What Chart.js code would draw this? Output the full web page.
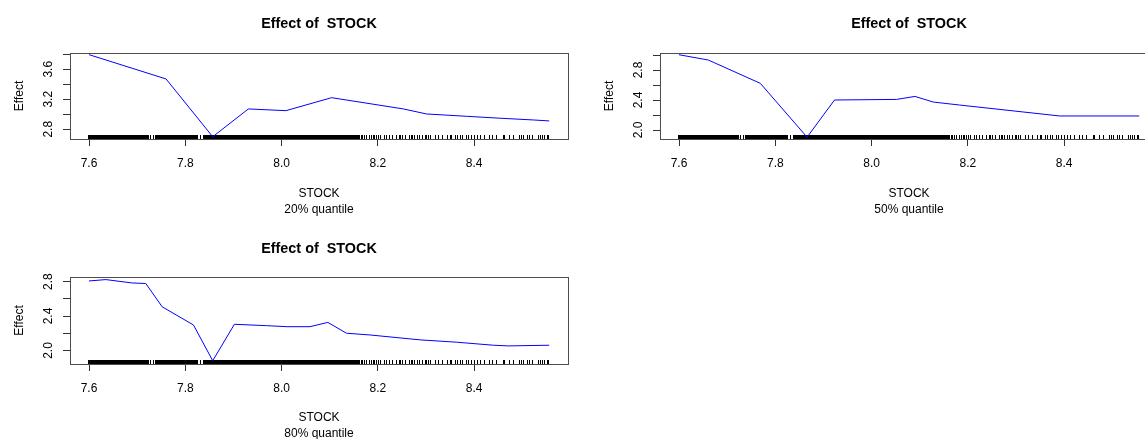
<!DOCTYPE html>
<html>
<head>
<meta charset="utf-8">
<script src="https://cdn.jsdelivr.net/npm/chart.js@4.4.0/dist/chart.umd.min.js"></script>
<style>
  html, body { margin: 0; padding: 0; background: #fff; }
  body { width: 1145px; height: 439px; overflow: hidden; position: relative; }
  canvas { position: absolute; }
</style>
</head>
<body>
<canvas id="q20" width="580" height="225" style="left:0;top:0"></canvas>
<canvas id="q50" width="580" height="225" style="left:590px;top:0"></canvas>
<canvas id="q80" width="580" height="225" style="left:0;top:224px"></canvas>
<script>
// partial dependence of Effect on STOCK, three quantiles of the other vars

const xTicks = [7.6, 7.8, 8.0, 8.2, 8.4];

const stock20 = [7.600, 7.760, 7.857, 7.931, 8.009, 8.104, 8.253, 8.301, 8.384, 8.454, 8.523, 8.556];
const effect20 = [3.795, 3.471, 2.700, 3.071, 3.048, 3.221, 3.071, 3.004, 2.973, 2.947, 2.924, 2.911];
const yTicks20 = [2.8, 3.0, 3.2, 3.4, 3.6, 3.8];
const yLabels20 = [2.8, 3.2, 3.6];

const stock50 = [7.600, 7.661, 7.769, 7.866, 7.923, 8.052, 8.090, 8.128, 8.183, 8.391, 8.556];
const effect50 = [3.004, 2.933, 2.622, 1.904, 2.400, 2.408, 2.448, 2.373, 2.333, 2.187, 2.187];
const yTicks50 = [2.0, 2.2, 2.4, 2.6, 2.8, 3.0];
const yLabels50 = [2.0, 2.4, 2.8];

const stock80 = [7.600, 7.635, 7.689, 7.718, 7.752, 7.817, 7.857, 7.902, 7.969, 8.011, 8.059, 8.096, 8.135, 8.184, 8.288, 8.364, 8.440, 8.471, 8.556];
const effect80 = [2.807, 2.823, 2.784, 2.777, 2.507, 2.296, 1.881, 2.304, 2.288, 2.276, 2.276, 2.326, 2.200, 2.180, 2.123, 2.096, 2.061, 2.053, 2.061];
const yTicks80 = [2.0, 2.2, 2.4, 2.6, 2.8];
const yLabels80 = [2.0, 2.4, 2.8];

// rug of observed STOCK values: dense stretches as ranges, the rest single ticks
const rugRanges = [[7.599, 7.647], [7.649, 7.724], [7.741, 7.767], [7.769, 7.778], [7.780, 7.784],
  [7.786, 7.794], [7.796, 7.825], [7.838, 7.875], [7.877, 7.919], [7.921, 8.159]];
const rugTicks = [7.728, 7.733, 7.739, 7.831,
  8.161, 8.165, 8.169, 8.173, 8.177, 8.182, 8.186, 8.190, 8.194, 8.198, 8.202, 8.206, 8.213,
  8.219, 8.225, 8.231, 8.238, 8.244, 8.248, 8.252, 8.258, 8.265, 8.269, 8.273, 8.277, 8.283,
  8.287, 8.292, 8.298, 8.302, 8.306, 8.310, 8.319, 8.325, 8.335, 8.344, 8.350, 8.354, 8.362,
  8.366, 8.371, 8.375, 8.385, 8.389, 8.395, 8.400, 8.406, 8.414, 8.422, 8.431, 8.439, 8.447,
  8.460, 8.464, 8.474, 8.481, 8.495, 8.499, 8.503, 8.510, 8.516, 8.522, 8.533, 8.537, 8.541,
  8.547, 8.553, 8.555];

const FONT = '"Liberation Sans", Arial, sans-serif';

// box, rug and the R-style rotated y labels
const rPlot = {
  id: 'rPlot',
  beforeDatasetsDraw(chart) {
    const { ctx, chartArea: a, scales: { x } } = chart;
    ctx.save();
    ctx.fillStyle = '#000';
    rugRanges.forEach(([s, e]) => {
      const x1 = Math.floor(x.getPixelForValue(s));
      const x2 = Math.ceil(x.getPixelForValue(e));
      ctx.fillRect(x1, a.bottom - 4, x2 - x1, 4);
    });
    rugTicks.forEach(v => {
      ctx.fillRect(Math.floor(x.getPixelForValue(v)), a.bottom - 4, 1, 4);
    });
    ctx.restore();
  },
  afterDraw(chart, args, opts) {
    const { ctx, chartArea: a, scales: { y } } = chart;
    ctx.save();
    ctx.strokeStyle = '#4d4d4d';
    ctx.lineWidth = 1;
    ctx.strokeRect(Math.round(a.left) + 0.5, Math.round(a.top) + 0.5,
      Math.round(a.right - a.left), Math.round(a.bottom - a.top));
    ctx.fillStyle = '#000';
    ctx.font = '12px ' + FONT;
    ctx.textAlign = 'center';
    ctx.textBaseline = 'middle';
    opts.labels.forEach(v => {
      ctx.save();
      ctx.translate(a.left - 21, y.getPixelForValue(v));
      ctx.rotate(-Math.PI / 2);
      ctx.fillText(v.toFixed(1), 0, 0);
      ctx.restore();
    });
    ctx.restore();
  }
};

function makePanel(id, xs, ys, yTicks, yLabels, yMin, yMax, quantile, titleTop, xHeight) {
  const tickGrid = { drawOnChartArea: false, drawTicks: true, tickLength: 7, color: '#333', lineWidth: 1 };
  new Chart(document.getElementById(id), {
    type: 'scatter',
    data: {
      datasets: [{
        data: xs.map((v, i) => ({ x: v, y: ys[i] })),
        showLine: true,
        borderColor: '#0000ff',
        borderWidth: 1,
        pointRadius: 0,
        tension: 0
      }]
    },
    options: {
      responsive: false,
      animation: false,
      devicePixelRatio: 1,
      layout: { padding: { left: 0, right: 12, top: 0, bottom: 0 } },
      plugins: {
        legend: { display: false },
        tooltip: { enabled: false },
        title: {
          display: true,
          text: 'Effect of  STOCK',
          fullSize: false,
          color: '#000',
          font: { family: FONT, size: 14.4, weight: 'bold', lineHeight: 1.25 },
          padding: { top: titleTop, bottom: 35 - titleTop }
        },
        rPlot: { labels: yLabels }
      },
      scales: {
        x: {
          type: 'linear',
          min: 7.5605,
          max: 8.595,
          afterBuildTicks: s => { s.ticks = xTicks.map(v => ({ value: v })); },
          afterFit: s => { s.height = xHeight; },
          grid: tickGrid,
          border: { display: false },
          ticks: {
            autoSkip: false, maxRotation: 0, color: '#000', padding: 10,
            font: { family: FONT, size: 12 },
            callback: v => v.toFixed(1)
          },
          title: {
            display: true, text: ['STOCK', quantile], color: '#000',
            font: { family: FONT, size: 12, lineHeight: 1.3 },
            padding: { top: 0, bottom: 8 }
          }
        },
        y: {
          min: yMin,
          max: yMax,
          afterBuildTicks: s => { s.ticks = yTicks.map(v => ({ value: v })); },
          afterFit: s => { s.width = 70; },
          grid: tickGrid,
          border: { display: false },
          ticks: { display: false },
          title: {
            display: true, text: 'Effect', color: '#000',
            font: { family: FONT, size: 12 },
            padding: { top: 12, bottom: 0 }
          }
        }
      }
    },
    plugins: [rPlot]
  });
}

makePanel('q20', stock20, effect20, yTicks20, yLabels20, 2.67, 3.817, '20% quantile', 15, 86);
makePanel('q50', stock50, effect50, yTicks50, yLabels50, 1.88, 3.027, '50% quantile', 15, 86);
makePanel('q80', stock80, effect80, yTicks80, yLabels80, 1.843, 2.853, '80% quantile', 16, 85);
</script>
</body>
</html>
